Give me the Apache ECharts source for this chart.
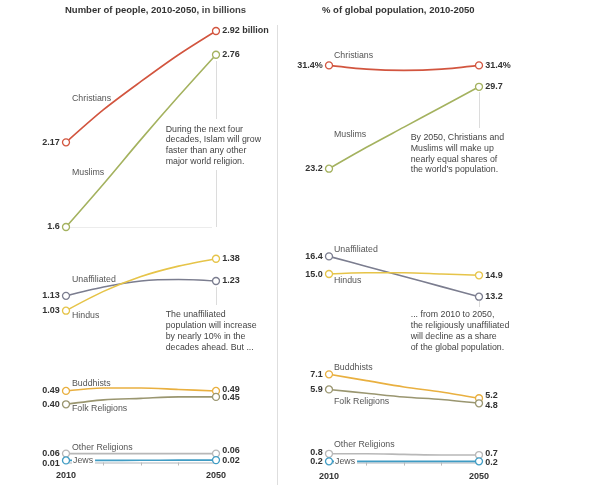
<!DOCTYPE html>
<html>
<head>
<meta charset="utf-8">
<script src="https://cdn.jsdelivr.net/npm/echarts@6/dist/echarts.min.js"></script>
<style>html,body{margin:0;padding:0;background:#fff}#main{width:600px;height:497px}</style>
</head>
<body>
<div id="main"></div>
<script>
// years on the x axis
var years = ['2010', '2020', '2030', '2040', '2050'];

// number of people, in billions
var christiansNum = [2.17, 2.39, 2.58, 2.76, 2.92];
var muslimsNum = [1.60, 1.89, 2.19, 2.48, 2.76];
var unaffiliatedNum = [1.13, 1.19, 1.23, 1.24, 1.23];
var hindusNum = [1.03, 1.16, 1.26, 1.33, 1.38];
var buddhistsNum = [0.49, 0.51, 0.51, 0.50, 0.49];
var folkNum = [0.40, 0.43, 0.44, 0.45, 0.45];
var otherNum = [0.06, 0.06, 0.06, 0.06, 0.06];
var jewsNum = [0.014, 0.014, 0.015, 0.016, 0.016];

// % of global population
var christiansPct = [31.4, 31.1, 31.0, 31.1, 31.4];
var muslimsPct = [23.2, 24.9, 26.5, 28.1, 29.7];
var unaffiliatedPct = [16.4, 15.6, 14.8, 14.0, 13.2];
var hindusPct = [15.0, 15.1, 15.1, 15.0, 14.9];
var buddhistsPct = [7.1, 6.6, 6.1, 5.7, 5.2];
var folkPct = [5.9, 5.6, 5.3, 5.1, 4.8];
var otherPct = [0.8, 0.8, 0.75, 0.7, 0.7];
var jewsPct = [0.2, 0.2, 0.2, 0.2, 0.2];

// end labels
var numStart = ['2.17', '1.6', '1.13', '1.03', '0.49', '0.40', '0.06', '0.01'];
var numEnd = ['2.92 billion', '2.76', '1.23', '1.38', '0.49', '0.45', '0.06', '0.02'];
var pctStart = ['31.4%', '23.2', '16.4', '15.0', '7.1', '5.9', '0.8', '0.2'];
var pctEnd = ['31.4%', '29.7', '13.2', '14.9', '5.2', '4.8', '0.7', '0.2'];

var FONT = '"Liberation Sans", Arial, sans-serif';
var chart = echarts.init(document.getElementById('main'));

// columns share one scale each, panels are cut out of it
var cols = [{left: 66, width: 150, scale: 148.5}, {left: 329, width: 150, scale: 12.6}];
var panels = [
    {col: 0, min: 1.6, max: 2.92, base: 227},
    {col: 0, min: 1.03, max: 1.38, base: 310.7},
    {col: 0, min: 0.40, max: 0.52, base: 404.3},
    {col: 0, min: 0, max: 0.07, base: 462.5},
    {col: 1, min: 23.2, max: 31.4, base: 168.7},
    {col: 1, min: 13.2, max: 16.4, base: 296.7},
    {col: 1, min: 4.8, max: 7.1, base: 403.3},
    {col: 1, min: 0.1, max: 0.8, base: 462.6}
];

var lines = [
    // name, color, panel, values, start label, end label, start offset, end offset
    ['Christians', '#d2553f', 0, christiansNum, numStart[0], numEnd[0], 0, 0],
    ['Muslims', '#a4b25f', 0, muslimsNum, numStart[1], numEnd[1], 0, 0],
    ['Unaffiliated', '#7b7d8f', 1, unaffiliatedNum, numStart[2], numEnd[2], 0, 0],
    ['Hindus', '#e6c449', 1, hindusNum, numStart[3], numEnd[3], 0, 0],
    ['Buddhists', '#e9b040', 2, buddhistsNum, numStart[4], numEnd[4], 0, -1],
    ['Folk Religions', '#9a9670', 2, folkNum, numStart[5], numEnd[5], 0, 1],
    ['Other Religions', '#b8b8b8', 3, otherNum, numStart[6], numEnd[6], 0, -3],
    ['Jews', '#3f9cc4', 3, jewsNum, numStart[7], numEnd[7], 3, 0],
    ['Christians', '#d2553f', 4, christiansPct, pctStart[0], pctEnd[0], 0, 0],
    ['Muslims', '#a4b25f', 4, muslimsPct, pctStart[1], pctEnd[1], 0, 0],
    ['Unaffiliated', '#7b7d8f', 5, unaffiliatedPct, pctStart[2], pctEnd[2], 0, 0],
    ['Hindus', '#e6c449', 5, hindusPct, pctStart[3], pctEnd[3], 0, 0],
    ['Buddhists', '#e9b040', 6, buddhistsPct, pctStart[4], pctEnd[4], 0, -3],
    ['Folk Religions', '#9a9670', 6, folkPct, pctStart[5], pctEnd[5], 0, 2],
    ['Other Religions', '#b8b8b8', 7, otherPct, pctStart[6], pctEnd[6], -1, -2],
    ['Jews', '#3f9cc4', 7, jewsPct, pctStart[7], pctEnd[7], 0, 1]
];

var grids = [], xAxes = [], yAxes = [], series = [];
panels.forEach(function (p, i) {
    var c = cols[p.col];
    var h = (p.max - p.min) * c.scale;
    grids.push({left: c.left, width: c.width, top: p.base - h, height: h});
    var bottom = (i === 3 || i === 7);
    xAxes.push({
        type: 'category', gridIndex: i, data: years, boundaryGap: false, show: bottom,
        axisLine: {show: bottom, lineStyle: {color: '#c9cdd1', width: 1.5}},
        axisTick: {show: bottom, length: 3, interval: function (idx) { return idx > 0 && idx < 4; }, lineStyle: {color: '#bbb'}},
        axisLabel: {
            show: bottom, interval: 0, margin: 9, color: '#333', fontWeight: 'bold', fontSize: 9, fontFamily: FONT,
            formatter: function (v) { return (v === '2010' || v === '2050') ? v : ''; }
        },
        splitLine: {show: false}
    });
    yAxes.push({type: 'value', gridIndex: i, min: p.min, max: p.max, show: false, splitLine: {show: false}});
});

lines.forEach(function (l) {
    var vals = l[3];
    series.push({
        name: l[0], type: 'line', xAxisIndex: l[2], yAxisIndex: l[2],
        smooth: 0.3, clip: false, silent: true,
        symbol: 'circle', symbolSize: 7, showAllSymbol: true,
        lineStyle: {color: l[1], width: 1.6},
        itemStyle: {color: '#fff', borderColor: l[1], borderWidth: 1.3},
        label: {color: '#333', fontWeight: 'bold', fontSize: 9, fontFamily: FONT},
        emphasis: {disabled: true},
        data: vals.map(function (v, i) {
            if (i === 0) {
                return {value: v, label: {show: true, position: 'left', distance: 2, formatter: l[4], offset: [0, l[6]]}};
            }
            if (i === vals.length - 1) {
                return {value: v, label: {show: true, position: 'right', distance: 2, formatter: l[5], offset: [0, l[7]]}};
            }
            return {value: v, symbol: 'none'};
        })
    });
});

function nameText(t, x, y, bg) {
    var st = {text: t, x: x, y: y, fill: '#555', font: '8.8px ' + FONT, textVerticalAlign: 'middle'};
    if (bg) { st.backgroundColor = '#fff'; st.padding = [0, 2, 0, 1]; }
    return {type: 'text', z: 100, style: st};
}
function noteText(t, x, y) {
    return {type: 'text', z: 100, style: {text: t, x: x, y: y, fill: '#444', font: '8.8px ' + FONT, lineHeight: 10.7, textVerticalAlign: 'top'}};
}
function rule(x1, y1, x2, y2, col) {
    return {type: 'line', z: 1, shape: {x1: x1, y1: y1, x2: x2, y2: y2}, style: {stroke: col || '#dcdcdc', lineWidth: 1}};
}

var graphics = [
    rule(277.5, 25, 277.5, 485, '#dedede'),
    rule(216.5, 61, 216.5, 119), rule(216.5, 170, 216.5, 227),
    rule(70, 227.5, 212, 227.5, '#ececec'),
    rule(216.5, 287, 216.5, 305),
    rule(479.5, 92, 479.5, 128), rule(479.5, 301, 479.5, 307),
    nameText('Christians', 72, 98.7), nameText('Muslims', 72, 173),
    nameText('Unaffiliated', 72, 279.3), nameText('Hindus', 72, 316),
    nameText('Buddhists', 72, 383.3), nameText('Folk Religions', 72, 409),
    nameText('Other Religions', 72, 448), nameText('Jews', 72, 461, true),
    nameText('Christians', 334, 56), nameText('Muslims', 334, 135),
    nameText('Unaffiliated', 334, 249.3), nameText('Hindus', 334, 280.7),
    nameText('Buddhists', 334, 367.7), nameText('Folk Religions', 334, 402),
    nameText('Other Religions', 334, 444.7), nameText('Jews', 334, 461.3, true),
    noteText('During the next four\ndecades, Islam will grow\nfaster than any other\nmajor world religion.', 165.7, 124),
    noteText('The unaffiliated\npopulation will increase\nby nearly 10% in the\ndecades ahead. But ...', 165.7, 309.7),
    noteText('By 2050, Christians and\nMuslims will make up\nnearly equal shares of\nthe world\u2019s population.', 410.7, 132.4),
    noteText('... from 2010 to 2050,\nthe religiously unaffiliated\nwill decline as a share\nof the global population.', 410.7, 309.7)
];

var option = {
    backgroundColor: '#fff',
    animation: false,
    title: [{
        text: '{b|Number of people, 2010-2050,}{n| in billions}',
        left: 65, top: 5, padding: 0,
        textStyle: {rich: {b: {fontWeight: 'bold', fontSize: 9.5, color: '#333', fontFamily: FONT}, n: {fontSize: 9.5, color: '#444', fontFamily: FONT}}}
    }, {
        text: '% of global population, 2010-2050',
        left: 322, top: 5, padding: 0,
        textStyle: {fontWeight: 'bold', fontSize: 9.5, color: '#333', fontFamily: FONT}
    }],
    grid: grids,
    xAxis: xAxes,
    yAxis: yAxes,
    series: series,
    graphic: graphics
};
chart.setOption(option);
</script>
</body>
</html>
